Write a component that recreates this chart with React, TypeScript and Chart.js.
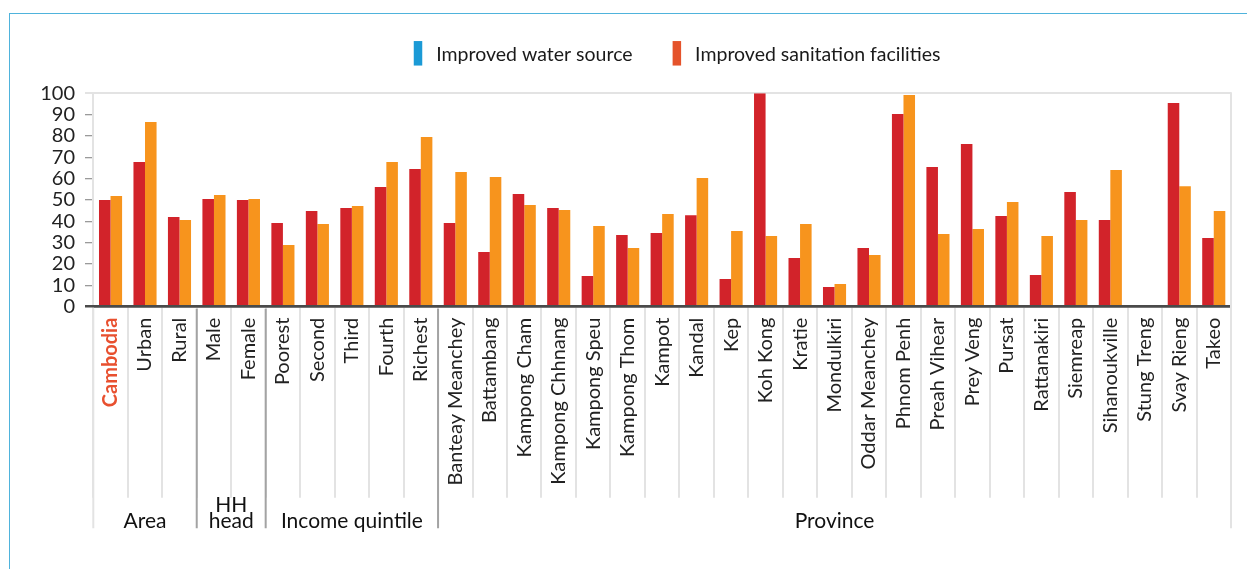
import React, { useEffect, useRef } from 'react';
import { Chart, registerables } from 'chart.js';

Chart.register(...registerables);

const categories = [
  'Cambodia', 'Urban', 'Rural', 'Male', 'Female',
  'Poorest', 'Second', 'Third', 'Fourth', 'Richest',
  'Banteay Meanchey', 'Battambang', 'Kampong Cham', 'Kampong Chhnang', 'Kampong Speu',
  'Kampong Thom', 'Kampot', 'Kandal', 'Kep', 'Koh Kong', 'Kratie', 'Mondulkiri',
  'Oddar Meanchey', 'Phnom Penh', 'Preah Vihear', 'Prey Veng', 'Pursat', 'Rattanakiri',
  'Siemreap', 'Sihanoukville', 'Stung Treng', 'Svay Rieng', 'Takeo',
];

const waterSource = [
  50.0, 67.8, 42.0, 50.5, 50.0,
  39.2, 44.8, 46.2, 56.1, 64.5,
  39.2, 25.6, 52.8, 46.2, 14.4, 33.6, 34.5, 42.9, 13.0, 100, 22.8, 9.2,
  27.5, 90.3, 65.5, 76.2, 42.5, 14.8, 53.7, 40.6, null, 95.4, 32.2,
];

const sanitation = [
  51.9, 86.5, 40.6, 52.3, 50.5,
  28.9, 38.7, 47.2, 67.8, 79.5,
  63.1, 60.8, 47.7, 45.3, 37.8, 27.5, 43.4, 60.3, 35.5, 33.1, 38.7, 10.6,
  24.2, 99.2, 34.1, 36.4, 49.1, 33.1, 40.6, 64.1, null, 56.5, 44.8,
];

const seriesNames = ['Improved water source', 'Improved sanitation facilities'];
const barColors = ['#d2232a', '#f7941d'];
const legendColors = ['#1b9ad6', '#e5532b'];

const groupLabels = [['Area'], ['HH', 'head'], ['Income quintile'], ['Province']];
const groupStarts = [0, 3, 5, 10, 33];

const yMin = 0;
const yMax = 100;
const yStep = 10;

const FONT = 'Lato, "Open Sans", sans-serif';

const legendPlugin = {
  id: 'customLegend',
  afterDraw(chart: any) {
    const { ctx, chartArea } = chart;
    ctx.save();
    ctx.font = `19.5px ${FONT}`;
    const boxW = 8.5;
    const boxH = 24.5;
    const textGap = 14;
    const itemGap = 40;
    const widths = seriesNames.map((t) => ctx.measureText(t).width);
    const total = widths.reduce((a, w) => a + boxW + textGap + w, 0) + itemGap * (seriesNames.length - 1);
    const cx = (chartArea.left + chartArea.right) / 2 + 15;
    const cy = chartArea.top - 40;
    let x = cx - total / 2;
    ctx.textBaseline = 'middle';
    ctx.textAlign = 'left';
    seriesNames.forEach((name, i) => {
      ctx.fillStyle = legendColors[i];
      ctx.fillRect(x, cy - boxH / 2, boxW, boxH);
      x += boxW + textGap;
      ctx.fillStyle = '#1a1a1a';
      ctx.fillText(name, x, cy + 1);
      x += widths[i] + itemGap;
    });
    ctx.restore();
  },
};

const groupPlugin = {
  id: 'groupAxis',
  afterDraw(chart: any) {
    const { ctx, chartArea } = chart;
    const x = chart.scales.x;
    const edge = (i: number) => x.getPixelForValue(i - 0.5);
    const axisY = chartArea.bottom;
    const bottom = axisY + 221.5;
    ctx.save();
    ctx.lineWidth = 2;
    ctx.strokeStyle = '#e3e3e3';
    ctx.beginPath();
    ctx.moveTo(chartArea.right, chartArea.top - 1);
    ctx.lineTo(chartArea.right, bottom);
    ctx.moveTo(chartArea.left, axisY + 2);
    ctx.lineTo(chartArea.left, bottom);
    ctx.stroke();
    ctx.strokeStyle = '#a3a3a3';
    ctx.beginPath();
    groupStarts.slice(1, -1).forEach((s) => {
      const px = edge(s);
      ctx.moveTo(px, axisY + 2);
      ctx.lineTo(px, bottom);
    });
    ctx.stroke();
    ctx.fillStyle = '#111';
    ctx.font = `21px ${FONT}`;
    ctx.textAlign = 'center';
    ctx.textBaseline = 'alphabetic';
    groupLabels.forEach((lines, gi) => {
      const cxg = (edge(groupStarts[gi]) + edge(groupStarts[gi + 1])) / 2;
      lines.forEach((line, li) => {
        const y = bottom - (lines.length - 1 - li) * 16;
        ctx.fillText(line, cxg, y);
      });
    });
    ctx.restore();
  },
};

export default function App() {
  const canvasRef = useRef<HTMLCanvasElement | null>(null);

  useEffect(() => {
    if (!canvasRef.current) return;
    Chart.defaults.font.family = FONT;
    const chart = new Chart(canvasRef.current, {
      type: 'bar',
      data: {
        labels: categories,
        datasets: [
          {
            label: seriesNames[0],
            data: waterSource,
            backgroundColor: barColors[0],
            categoryPercentage: 0.67,
            barPercentage: 1,
          },
          {
            label: seriesNames[1],
            data: sanitation,
            backgroundColor: barColors[1],
            categoryPercentage: 0.67,
            barPercentage: 1,
          },
        ],
      },
      options: {
        responsive: false,
        animation: false,
        devicePixelRatio: 1,
        layout: { padding: { top: 93.3, left: 0, right: 16, bottom: 0 } },
        plugins: {
          legend: { display: false },
          tooltip: { enabled: false },
          title: { display: false },
        },
        scales: {
          x: {
            offset: true,
            afterFit: (scale: any) => {
              scale.height = 262.3;
            },
            grid: {
              offset: true,
              drawOnChartArea: false,
              drawTicks: true,
              tickLength: 191,
              color: '#e3e3e3',
              lineWidth: 2,
            },
            border: { display: true, color: '#4a4a4a', width: 2.5, z: 1 },
            ticks: {
              autoSkip: false,
              minRotation: 90,
              maxRotation: 90,
              padding: -180,
              color: (c: any) => (c.index === 0 ? '#e8502f' : '#222'),
              font: (c: any) => ({ family: FONT, size: 20, weight: c.index === 0 ? 'bold' : 'normal' }),
            },
          },
          y: {
            min: yMin,
            max: yMax,
            afterFit: (scale: any) => {
              scale.width = 93.3;
            },
            border: { display: true, color: '#e3e3e3', width: 2 },
            grid: {
              drawOnChartArea: true,
              drawTicks: true,
              tickLength: 8.3,
              color: (c: any) =>
                c.tick.value === yMax ? '#e3e3e3' : c.tick.value === yMin ? '#4a4a4a' : 'rgba(0,0,0,0)',
              tickColor: (c: any) =>
                c.tick.value === yMax ? '#e3e3e3' : c.tick.value === yMin ? '#4a4a4a' : '#9a9a9a',
              lineWidth: (c: any) => (c.tick.value === yMin ? 2.5 : c.tick.value === yMax ? 2 : 1.3),
            },
            ticks: {
              stepSize: yStep,
              autoSkip: false,
              padding: 10,
              color: '#222',
              font: { family: FONT, size: 20 },
            },
          },
        },
      },
      plugins: [legendPlugin, groupPlugin],
    });
    return () => chart.destroy();
  }, []);

  return (
    <div style={{ position: 'absolute', left: 0, top: 0, width: 1247, height: 569, overflow: 'hidden', background: '#fff' }}>
      <div
        style={{
          position: 'absolute',
          left: 9,
          top: 13,
          width: 1300,
          height: 600,
          borderTop: '1.5px solid #4fb3dc',
          borderLeft: '1.5px solid #4fb3dc',
        }}
      />
      <canvas
        ref={canvasRef}
        width={1247}
        height={569}
        style={{ position: 'absolute', left: 0, top: 0, display: 'block' }}
      />
    </div>
  );
}
